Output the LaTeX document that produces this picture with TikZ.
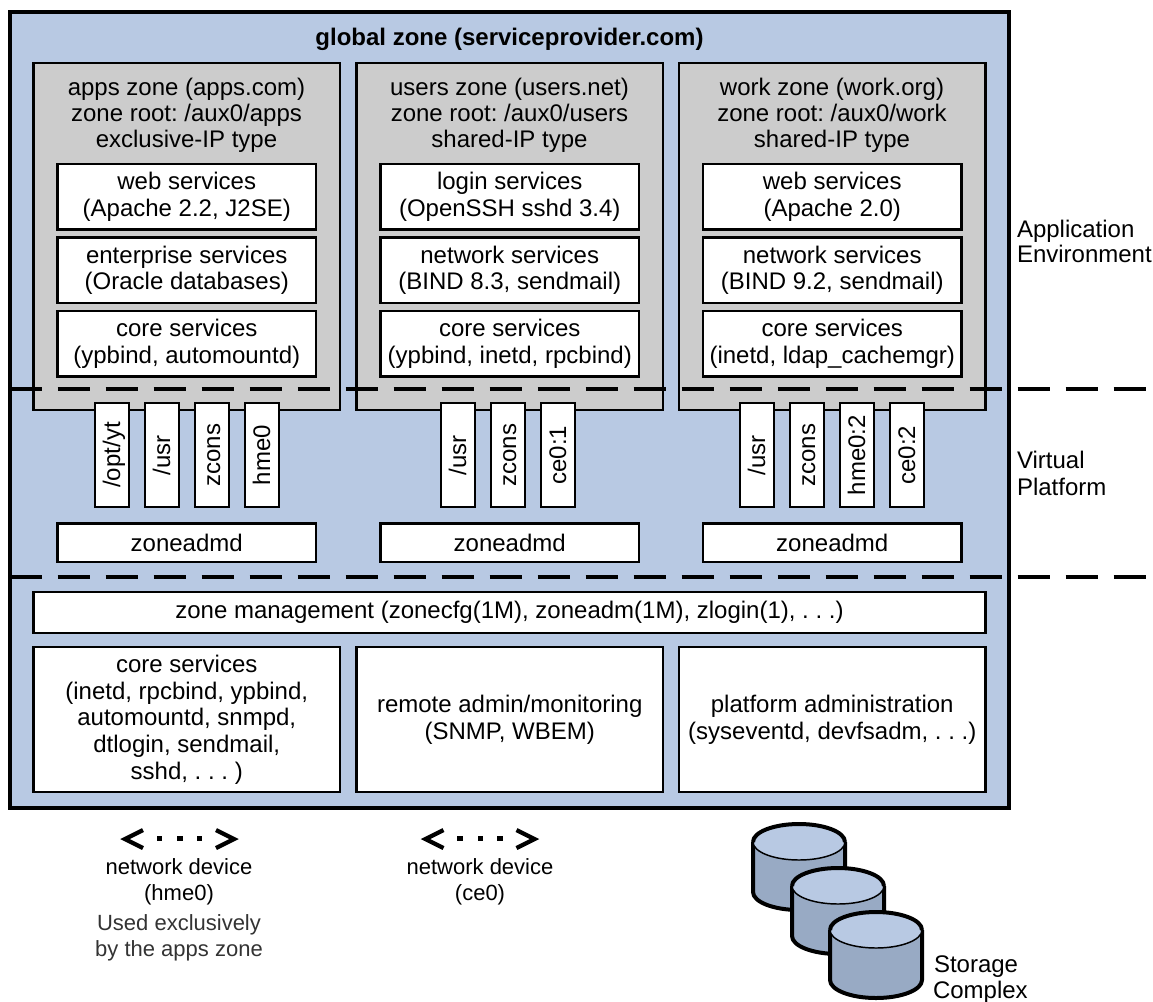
\documentclass[tikz,border=0pt]{standalone}
\usepackage{fontspec}
\setmainfont{Liberation Sans}
\frenchspacing
\definecolor{zoneblue}{HTML}{B8C9E3}
\definecolor{zonegray}{HTML}{CCCCCC}
\definecolor{diskside}{HTML}{98AAC4}
\definecolor{softtext}{HTML}{333333}
\newcommand{\pxbox}[7][]{\node[#2,minimum width={(#5-#3)*0.75pt},minimum height={(#6-#4)*0.75pt},#1] at ({(#3+#5)/2},{(#4+#6)/2}) {#7};}
\newcommand{\diskat}[3]{%
  \coordinate (#1) at (#2,#3);
  \path[fill=diskside,draw=black,line width=3pt,line join=round]
    (#2-46,#3) -- (#2-46,#3+50) arc[start angle=180,end angle=0,x radius=46,y radius=18] -- (#2+46,#3);
  \path[fill=zoneblue,draw=black,line width=1.1pt] (#2,#3) ellipse[x radius=46,y radius=18];
  \draw[line width=3pt] (#2-46,#3) arc[start angle=180,end angle=360,x radius=46,y radius=18];
}
\newcommand{\devmark}[2]{%
  \draw[markline] (#1+143,#2+830) -- (#1+125,#2+839) -- (#1+143,#2+848);
  \draw[markline] (#1+216,#2+830) -- (#1+234,#2+839) -- (#1+216,#2+848);
  \foreach \dx in {159.5,180,199.5} \fill (#1+\dx-2.7,#2+836) rectangle (#1+\dx+2.7,#2+841.4);
}
\tikzset{
  x=0.75pt,y=-0.75pt,
  base text/.style={font=\fontsize{18pt}{20pt}\selectfont,align=center,inner sep=0pt,outer sep=0pt},
  outerzone/.style={base text,draw=black,fill=zoneblue,line width=3pt},
  grayzone/.style={base text,draw=black,fill=zonegray,line width=2pt},
  whitebox/.style={base text,draw=black,fill=white,line width=2.1pt},
  strip/.style={whitebox,rotate=90,text height=16pt,text depth=4pt,minimum width=78pt,minimum height=25.5pt},
  zonesep/.style={draw=black,line width=3.6pt,dash pattern=on 24pt off 12pt},
  label/.style={base text,anchor=base},
  small label/.style={label,font=\fontsize{16.5pt}{20pt}\selectfont},
  sidelabel/.style={base text,anchor=base west,align=left},
  markline/.style={draw=black,line width=3.2pt,line join=miter},
}
\begin{document}
\begin{tikzpicture}
\useasboundingbox (0,0) rectangle (1153,1001);
\pxbox[name=global]{outerzone}{10}{12}{1009}{808}{}
\node[label,font=\fontsize{18pt}{20pt}\selectfont\bfseries] (globaltitle) at (509.5,45) {global zone (serviceprovider.com)};
% gray zones
\pxbox[name=appszone]{grayzone}{33.5}{63}{340}{410}{}
\pxbox[name=userszone]{grayzone}{356.5}{63}{663}{410}{}
\pxbox[name=workzone]{grayzone}{679}{63}{985.5}{410}{}
\node[label] (appstitle) at (186.5,95) {apps zone (apps.com)};
\node[label] (appsroot) at (186.5,121) {zone root: /aux0/apps};
\node[label] (appstype) at (186.5,147.5) {exclusive-IP type};
\node[label] (userstitle) at (509.5,95) {users zone (users.net)};
\node[label] (usersroot) at (509.5,121) {zone root: /aux0/users};
\node[label] (userstype) at (509.5,147.5) {shared-IP type};
\node[label] (worktitle) at (832,95) {work zone (work.org)};
\node[label] (workroot) at (832,121) {zone root: /aux0/work};
\node[label] (worktype) at (832,147.5) {shared-IP type};
% service boxes
\pxbox[name=a1]{whitebox}{57.5}{164}{316}{229.5}{web services\\(Apache 2.2, J2SE)}
\pxbox[name=a2]{whitebox}{57.5}{237.5}{316}{303}{enterprise services\\(Oracle databases)}
\pxbox[name=a3]{whitebox}{57.5}{311}{316}{376.5}{core services\\(ypbind, automountd)}
\pxbox[name=u1]{whitebox}{380.5}{164}{639}{229.5}{login services\\(OpenSSH sshd 3.4)}
\pxbox[name=u2]{whitebox}{380.5}{237.5}{639}{303}{network services\\(BIND 8.3, sendmail)}
\pxbox[name=u3]{whitebox}{380.5}{311}{639}{376.5}{core services\\(ypbind, inetd, rpcbind)}
\pxbox[name=w1]{whitebox}{703}{164}{961.5}{229.5}{web services\\(Apache 2.0)}
\pxbox[name=w2]{whitebox}{703}{237.5}{961.5}{303}{network services\\(BIND 9.2, sendmail)}
\pxbox[name=w3]{whitebox}{703}{311}{961.5}{376.5}{core services\\(inetd, ldap\_cachemgr)}
% separators
\coordinate (sepAstart) at (9.6,389);
\coordinate (sepAend) at (1146,389);
\coordinate (sepBstart) at (9.6,577);
\coordinate (sepBend) at (1146,577);
\draw[zonesep] (sepAstart) -- (sepAend);
\draw[zonesep] (sepBstart) -- (sepBend);
% strips
\node[strip] (s1) at (112,455) {/opt/yt};
\node[strip] (s2) at (162,455) {/usr};
\node[strip] (s3) at (212,455) {zcons};
\node[strip] (s4) at (262,455) {hme0};
\node[strip] (s5) at (458,455) {/usr};
\node[strip] (s6) at (508,455) {zcons};
\node[strip] (s7) at (558,455) {ce0:1};
\node[strip] (s8) at (757,455) {/usr};
\node[strip] (s9) at (807,455) {zcons};
\node[strip] (s10) at (857,455) {hme0:2};
\node[strip] (s11) at (907,455) {ce0:2};
% zoneadmd
\pxbox[name=z1]{whitebox}{57.5}{523.5}{316}{562}{zoneadmd}
\pxbox[name=z2]{whitebox}{380.5}{523.5}{639}{562}{zoneadmd}
\pxbox[name=z3]{whitebox}{703}{523.5}{961.5}{562}{zoneadmd}
% global services
\pxbox[name=mgmt]{whitebox}{33.5}{592}{985.5}{633}{zone management (zonecfg(1M), zoneadm(1M), zlogin(1), . . .)}
\pxbox[name=b1]{whitebox}{33.5}{647}{340}{792}{core services\\(inetd, rpcbind, ypbind,\\automountd, snmpd,\\dtlogin, sendmail,\\sshd, . . . )}
\pxbox[name=b2]{whitebox}{356.5}{647}{663}{792}{remote admin/monitoring\\(SNMP, WBEM)}
\pxbox[name=b3]{whitebox}{679}{647}{985.5}{792}{platform administration\\(syseventd, devfsadm, . . .)}
% side labels
\node[sidelabel] (appenv1) at (1017,237) {Application};
\node[sidelabel] (appenv2) at (1017,262) {Environment};
\node[sidelabel] (vp1) at (1017,468) {Virtual};
\node[sidelabel] (vp2) at (1017,495) {Platform};
% network devices
\devmark{0}{0}
\devmark{300.5}{0}
\node[small label] (nd1) at (179,874) {network device};
\node[small label] (nd1b) at (179,900) {(hme0)};
\node[small label,text=softtext] (nd1c) at (179,930) {Used exclusively};
\node[small label,text=softtext] (nd1d) at (179,956) {by the apps zone};
\node[small label] (nd2) at (480,874) {network device};
\node[small label] (nd2b) at (480,900) {(ce0)};
% storage
\diskat{d1}{799}{842}
\diskat{d2}{838}{886}
\diskat{d3}{876}{930}
\node[sidelabel] (st1) at (934,972) {Storage};
\node[sidelabel] (st2) at (933,998) {Complex};
\end{tikzpicture}
\end{document}
